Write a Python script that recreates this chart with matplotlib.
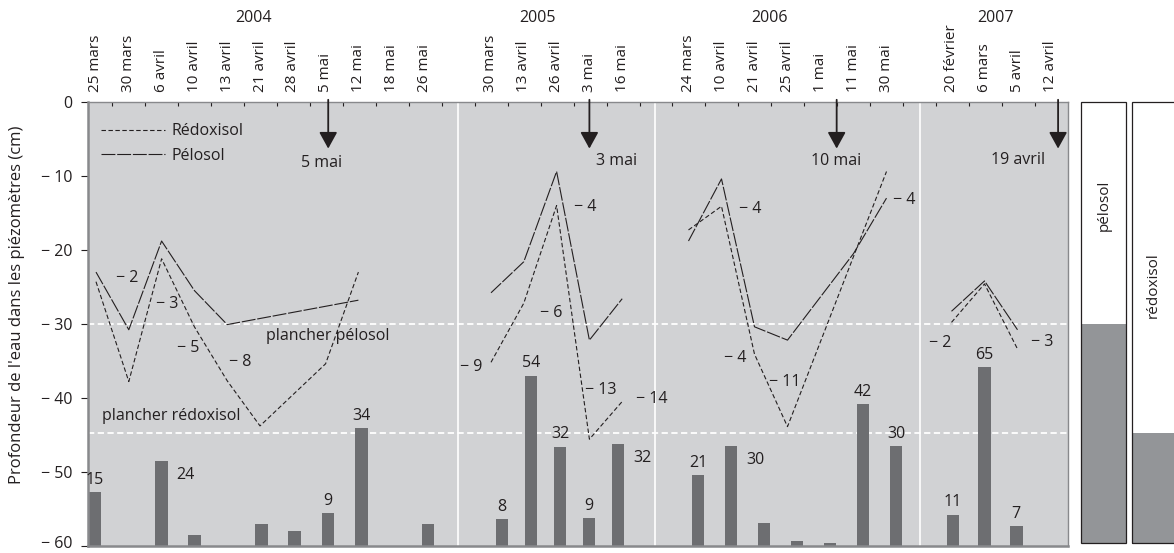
import numpy as np
import matplotlib
matplotlib.use("Agg")
import matplotlib.pyplot as plt
from matplotlib.patches import Rectangle
from matplotlib.transforms import ScaledTranslation

plt.rcParams['font.family'] = ['Open Sans', 'DejaVu Sans']
plt.rcParams['lines.scale_dashes'] = False

nan = np.nan
MINUS = "\u2212"

# ---------------- data ----------------
years = ["2004", "2005", "2006", "2007"]

dates_2004 = ["25 mars", "30 mars", "6 avril", "10 avril", "13 avril", "21 avril",
              "28 avril", "5 mai", "12 mai", "18 mai", "26 mai"]
dates_2005 = ["30 mars", "13 avril", "26 avril", "3 mai", "16 mai"]
dates_2006 = ["24 mars", "10 avril", "21 avril", "25 avril", "1 mai", "11 mai", "30 mai"]
dates_2007 = ["20 février", "6 mars", "5 avril", "12 avril"]

# water depth (cm) in piezometers
pelosol_2004 = [-23.0, -30.8, -18.8, -25.5, -30.1, nan, nan, nan, -26.8, nan, nan]
redoxisol_2004 = [-24.3, -37.8, -21.2, -30.4, -37.7, -43.8, nan, -35.4, -23.0, nan, nan]
pelosol_2005 = [-25.8, -21.6, -9.4, -32.2, -26.6]
redoxisol_2005 = [-35.2, -27.2, -14.0, -45.6, -40.5]
pelosol_2006 = [-18.8, -10.4, -30.4, -32.2, nan, -20.5, -13.0]
redoxisol_2006 = [-17.3, -14.1, -34.1, -43.9, nan, nan, -9.4]
pelosol_2007 = [-28.3, -24.2, -30.8, nan]
redoxisol_2007 = [-29.8, -24.6, -33.4, nan]

# rainfall bars (top of bar on the depth scale) and their labels (mm)
bar_top_2004 = [-52.8, nan, -48.6, -58.6, nan, -57.0, -58.0, -55.6, -44.1, nan, -57.0]
rain_2004 = ["15", "", "24", "", "", "", "", "9", "34", "", ""]
bar_top_2005 = [-56.4, -37.0, -46.6, -56.3, -46.3]
rain_2005 = ["8", "54", "32", "9", "32"]
bar_top_2006 = [-50.4, -46.5, -56.9, -59.3, -59.6, -40.9, -46.5]
rain_2006 = ["21", "30", "", "", "", "42", "30"]
bar_top_2007 = [-55.8, -35.8, -57.4, nan]
rain_2007 = ["11", "65", "7", ""]

# variations written along the curves
drops_2004 = [MINUS + " 2", MINUS + " 3", MINUS + " 5", MINUS + " 8"]
drops_2005 = [MINUS + " 9", MINUS + " 4", MINUS + " 6", MINUS + " 13", MINUS + " 14"]
drops_2006 = [MINUS + " 4", MINUS + " 4", MINUS + " 11", MINUS + " 4"]
drops_2007 = [MINUS + " 2", MINUS + " 3"]

arrow_dates = ["5 mai", "3 mai", "10 mai", "19 avril"]

floor_pelosol = -30.0
floor_redoxisol = -44.8

yticks = [0, -10, -20, -30, -40, -50, -60]
ytick_labels = ["0"] + [MINUS + " " + str(abs(v)) for v in yticks[1:]]

# ---------------- layout (x in reference pixel columns) ----------------
dates = {"2004": dates_2004, "2005": dates_2005, "2006": dates_2006, "2007": dates_2007}
pel = {"2004": pelosol_2004, "2005": pelosol_2005, "2006": pelosol_2006, "2007": pelosol_2007}
red = {"2004": redoxisol_2004, "2005": redoxisol_2005, "2006": redoxisol_2006, "2007": redoxisol_2007}
bars = {"2004": bar_top_2004, "2005": bar_top_2005, "2006": bar_top_2006, "2007": bar_top_2007}
rains = {"2004": rain_2004, "2005": rain_2005, "2006": rain_2006, "2007": rain_2007}
drops = {"2004": drops_2004, "2005": drops_2005, "2006": drops_2006, "2007": drops_2007}

layout = {
    "2004": dict(x0=96.0, step=32.8, bx0=94.5, bstep=33.35, yx=254, arrow=7.08),
    "2005": dict(x0=491.0, step=32.8, bx0=502.0, bstep=29.0, yx=538, arrow=3.0),
    "2006": dict(x0=688.5, step=33.0, bx0=698.0, bstep=33.0, yx=770, arrow=4.49),
    "2007": dict(x0=951.5, step=33.0, bx0=953.0, bstep=31.6, yx=995, arrow=3.23),
}
drop_pos = {
    "2004": [(127.5, -23.75), (166.7, -27.3), (187.7, -33.2), (240, -35.2)],
    "2005": [(471, -35.8), (584.7, -14.2), (551, -28.6), (601, -38.9), (652, -40.1)],
    "2006": [(750, -14.5), (735, -34.6), (785, -37.8), (904, -13.3)],
    "2007": [(940, -32.6), (1042, -32.5)],
}
arrow_label_pos = [(321.7, -8.3), (616.7, -7.95), (835.8, -7.95), (1018, -7.9)]
right_labels = {("2004", 2), ("2005", 4), ("2006", 1)}
separators = [457.5, 655.0, 920.0]

INK = "#231f20"
BG = "#d1d2d4"
BAR = "#6d6e71"
BOX = "#939598"
SPINE = "#88898c"

W, H = 1174, 553
fig = plt.figure(figsize=(W / 100, H / 100), dpi=100)
ax_l, ax_r, ax_t, ax_b = 88, 1068, 102, 545.7
ax = fig.add_axes([ax_l / W, (H - ax_b) / H, (ax_r - ax_l) / W, (ax_b - ax_t) / H])
ax.set_facecolor(BG)
ax.set_xlim(ax_l, ax_r)
ax.set_ylim(-60, 0)

for s in ax.spines.values():
    s.set_color(SPINE)
    s.set_linewidth(1.0)
ax.spines['left'].set_linewidth(1.8)
ax.spines['bottom'].set_linewidth(1.8)

# top ticks (regular grid)
tick_x = [112.3 + 32.95 * k for k in range(29)]
ax.set_xticks(tick_x)
ax.tick_params(axis='x', which='both', top=True, bottom=False, direction='in',
               length=3, width=0.8, color=INK, labeltop=False, labelbottom=False)
ax.set_yticks(yticks)
ax.set_yticklabels(ytick_labels)
ax.tick_params(axis='y', direction='out', length=5, width=0.8, color=INK,
               labelsize=11.5, labelcolor=INK, pad=6)
last = ax.get_yticklabels()[-1]
last.set_transform(last.get_transform() + ScaledTranslation(0, 3 / 72, fig.dpi_scale_trans))

# separators and floors
for sx in separators:
    ax.axvline(sx, color='white', lw=1.2, zorder=1)
for fl in (floor_pelosol, floor_redoxisol):
    ax.axhline(fl, color='white', lw=1.3, dashes=(4.5, 2.5), zorder=1)

ax.text(327.5, -31.7, "plancher pélosol", fontsize=11.5, color=INK, ha='center', va='center', zorder=3)
ax.text(171, -42.5, "plancher rédoxisol", fontsize=11.5, color=INK, ha='center', va='center', zorder=3)

RED_DASH = (3.2, 1.8)
PEL_DASH = (10.0, 1.3)
blend = ax.get_xaxis_transform()

for yr in years:
    L = layout[yr]
    n = len(dates[yr])
    xs = np.array([L["x0"] + L["step"] * i for i in range(n)])
    bx = np.array([L["bx0"] + L["bstep"] * i for i in range(n)])
    # bars
    bt = np.array(bars[yr], dtype=float)
    ok = ~np.isnan(bt)
    ax.bar(bx[ok], bt[ok] + 60, bottom=-60, width=12.8, color=BAR, zorder=2)
    for i in range(n):
        lab = rains[yr][i]
        if not lab or np.isnan(bt[i]):
            continue
        if (yr, i) in right_labels:
            ax.annotate(lab, (bx[i], bt[i]), xytext=(17.5, -10), textcoords='offset points',
                        ha='center', va='center', fontsize=11.5, color=INK, zorder=4)
        else:
            ax.annotate(lab, (bx[i], bt[i]), xytext=(0, 3), textcoords='offset points',
                        ha='center', va='bottom', fontsize=11.5, color=INK, zorder=4)
    # lines
    for series, dash, name in ((red[yr], RED_DASH, "Rédoxisol"), (pel[yr], PEL_DASH, "Pélosol")):
        v = np.array(series, dtype=float)
        ok = ~np.isnan(v)
        ax.plot(xs[ok], v[ok], color=INK, lw=0.8, dashes=dash, zorder=3,
                label=name if yr == "2004" else None)
    # date labels
    for i, d in enumerate(dates[yr]):
        ax.text(xs[i], 1.022, d, transform=blend, rotation=90, ha='center', va='bottom',
                fontsize=11, color=INK)
    ax.text(L["yx"], 1.189, yr, transform=blend, ha='center', va='center',
            fontsize=11.5, color=INK)
    # variation labels
    for t, (px, py) in zip(drops[yr], drop_pos[yr]):
        ax.text(px, py, t, fontsize=11.5, color=INK, ha='center', va='center', zorder=4)

# arrows
for yr, lab, (lx, ly) in zip(years, arrow_dates, arrow_label_pos):
    L = layout[yr]
    x = L["x0"] + L["step"] * L["arrow"]
    ax.annotate('', xy=(x, -6.3), xytext=(x, 0.3), annotation_clip=False,
                arrowprops=dict(arrowstyle='-|>,head_length=1.0,head_width=0.55',
                                mutation_scale=10, color=INK, lw=1.3,
                                shrinkA=0, shrinkB=0), zorder=5)
    ax.text(lx, ly, lab, fontsize=11.5, color=INK, ha='center', va='center', zorder=5)

# legend
leg = ax.legend(loc='upper left', bbox_to_anchor=(0.013, 0.952), frameon=False,
                handlelength=4.0, handletextpad=0.45, borderpad=0, borderaxespad=0,
                labelspacing=0.55, fontsize=11.5)
for t in leg.get_texts():
    t.set_color(INK)

# y label
fig.text(17 / W, (H - 305) / H, "Profondeur de l'eau dans les piézomètres (cm)",
         rotation=90, ha='center', va='center', fontsize=12, color=INK)

# side boxes
ax2 = fig.add_axes([1075 / W, (H - ax_b) / H, (W - 1075) / W, (ax_b - ax_t) / H])
ax2.set_xlim(1075, W)
ax2.set_ylim(-60, 0)
ax2.axis('off')
box_bottom = -59.6
for (x0, x1, fl, name, ty, tx) in ((1081.5, 1126, floor_pelosol, "pélosol", -14.0, 1104),
                                   (1132.5, 1185, floor_redoxisol, "rédoxisol", -24.8, 1153)):
    ax2.add_patch(Rectangle((x0, fl), x1 - x0, box_bottom - fl, facecolor=BOX,
                            edgecolor='none', clip_on=False))
    ax2.add_patch(Rectangle((x0, box_bottom), x1 - x0, -box_bottom, facecolor='none',
                            edgecolor=INK, lw=0.9, clip_on=False))
    ax2.text(tx, ty, name, rotation=90, ha='center', va='center', fontsize=11, color=INK)

fig.savefig("out.png", dpi=100)
